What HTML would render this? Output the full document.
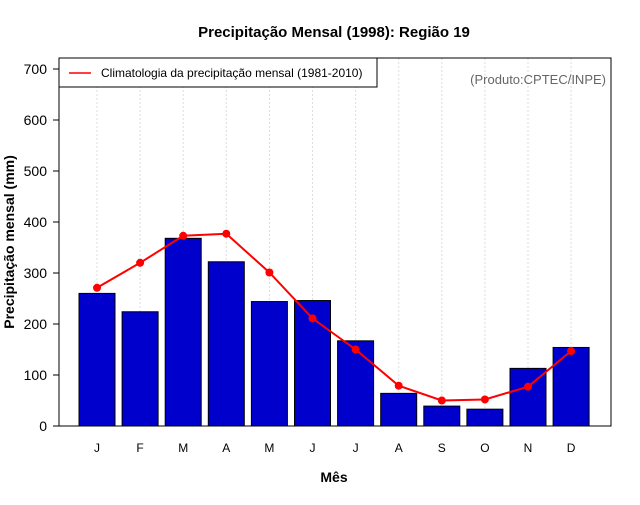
<!DOCTYPE html>
<html><head><meta charset="utf-8"><style>body{margin:0;background:#fff}svg{font-family:"Liberation Sans",sans-serif}</style></head>
<body>
<svg id="c" width="640" height="500"></svg>
<script>
const months=["J","F","M","A","M","J","J","A","S","O","N","D"];
const obs1998=[260,224,368,322,244,246,167,64,39,33,113,154];
const clim=[271,320,373,377,301,211,150,79,50,52,77,147];
const yTicks=[0,100,200,300,400,500,600,700];
const NS="http://www.w3.org/2000/svg";
const svg=document.getElementById("c");
const L=59,R=611,T=58,B=426;
const y=v=>B-v*0.51;
const x=i=>97+i*43.1;
function mk(tag,attrs,name,text){const e=document.createElementNS(NS,tag);for(const k in attrs)e.setAttribute(k,attrs[k]);


if(text!==undefined)e.textContent=text;svg.appendChild(e);return e;}
months.forEach((m,i)=>{mk("line",{x1:x(i),x2:x(i),y1:T,y2:B,stroke:"#ddd","stroke-dasharray":"2,2"},"grid-line");});
obs1998.forEach((v,i)=>{mk("rect",{x:x(i)-18,y:y(v),width:36,height:B-y(v),fill:"#0000cd",stroke:"#000","stroke-width":1},"bar-"+i);});
mk("polyline",{points:clim.map((v,i)=>x(i)+","+y(v)).join(" "),fill:"none",stroke:"#f00","stroke-width":2},"climatology-line");
clim.forEach((v,i)=>{mk("circle",{cx:x(i),cy:y(v),r:4,fill:"#f00"},"climatology-point");});
mk("rect",{x:L,y:T,width:R-L,height:B-T,fill:"none",stroke:"#000"},"plot-frame");
yTicks.forEach(t=>{mk("line",{x1:L-6,x2:L,y1:y(t),y2:y(t),stroke:"#000"},"y-tick");
mk("text",{x:L-12,y:y(t)+5,"text-anchor":"end","font-size":14},"y-tick-label",t);});
months.forEach((m,i)=>{mk("text",{x:x(i),y:452,"text-anchor":"middle","font-size":12},"x-tick-label",m);});
mk("text",{x:334,y:37,"text-anchor":"middle","font-size":15,"font-weight":"bold"},"chart-title","Precipitação Mensal (1998): Região 19");
mk("text",{x:334,y:482,"text-anchor":"middle","font-size":14,"font-weight":"bold"},"x-axis-title","Mês");
mk("text",{x:14,y:242,"text-anchor":"middle","font-size":14,"font-weight":"bold",transform:"rotate(-90 14 242)"},"y-axis-title","Precipitação mensal (mm)");
mk("text",{x:606,y:84,"text-anchor":"end","font-size":13,fill:"#666"},"source-note","(Produto:CPTEC/INPE)");
mk("rect",{x:L,y:T,width:318,height:29,fill:"#fff",stroke:"#000"},"legend-box");
mk("line",{x1:69,x2:91,y1:73,y2:73,stroke:"#f00","stroke-width":1.5},"legend-line");
mk("text",{x:101,y:77,"font-size":12},"legend-label","Climatologia da precipitação mensal (1981-2010)");
</script>
</body></html>
